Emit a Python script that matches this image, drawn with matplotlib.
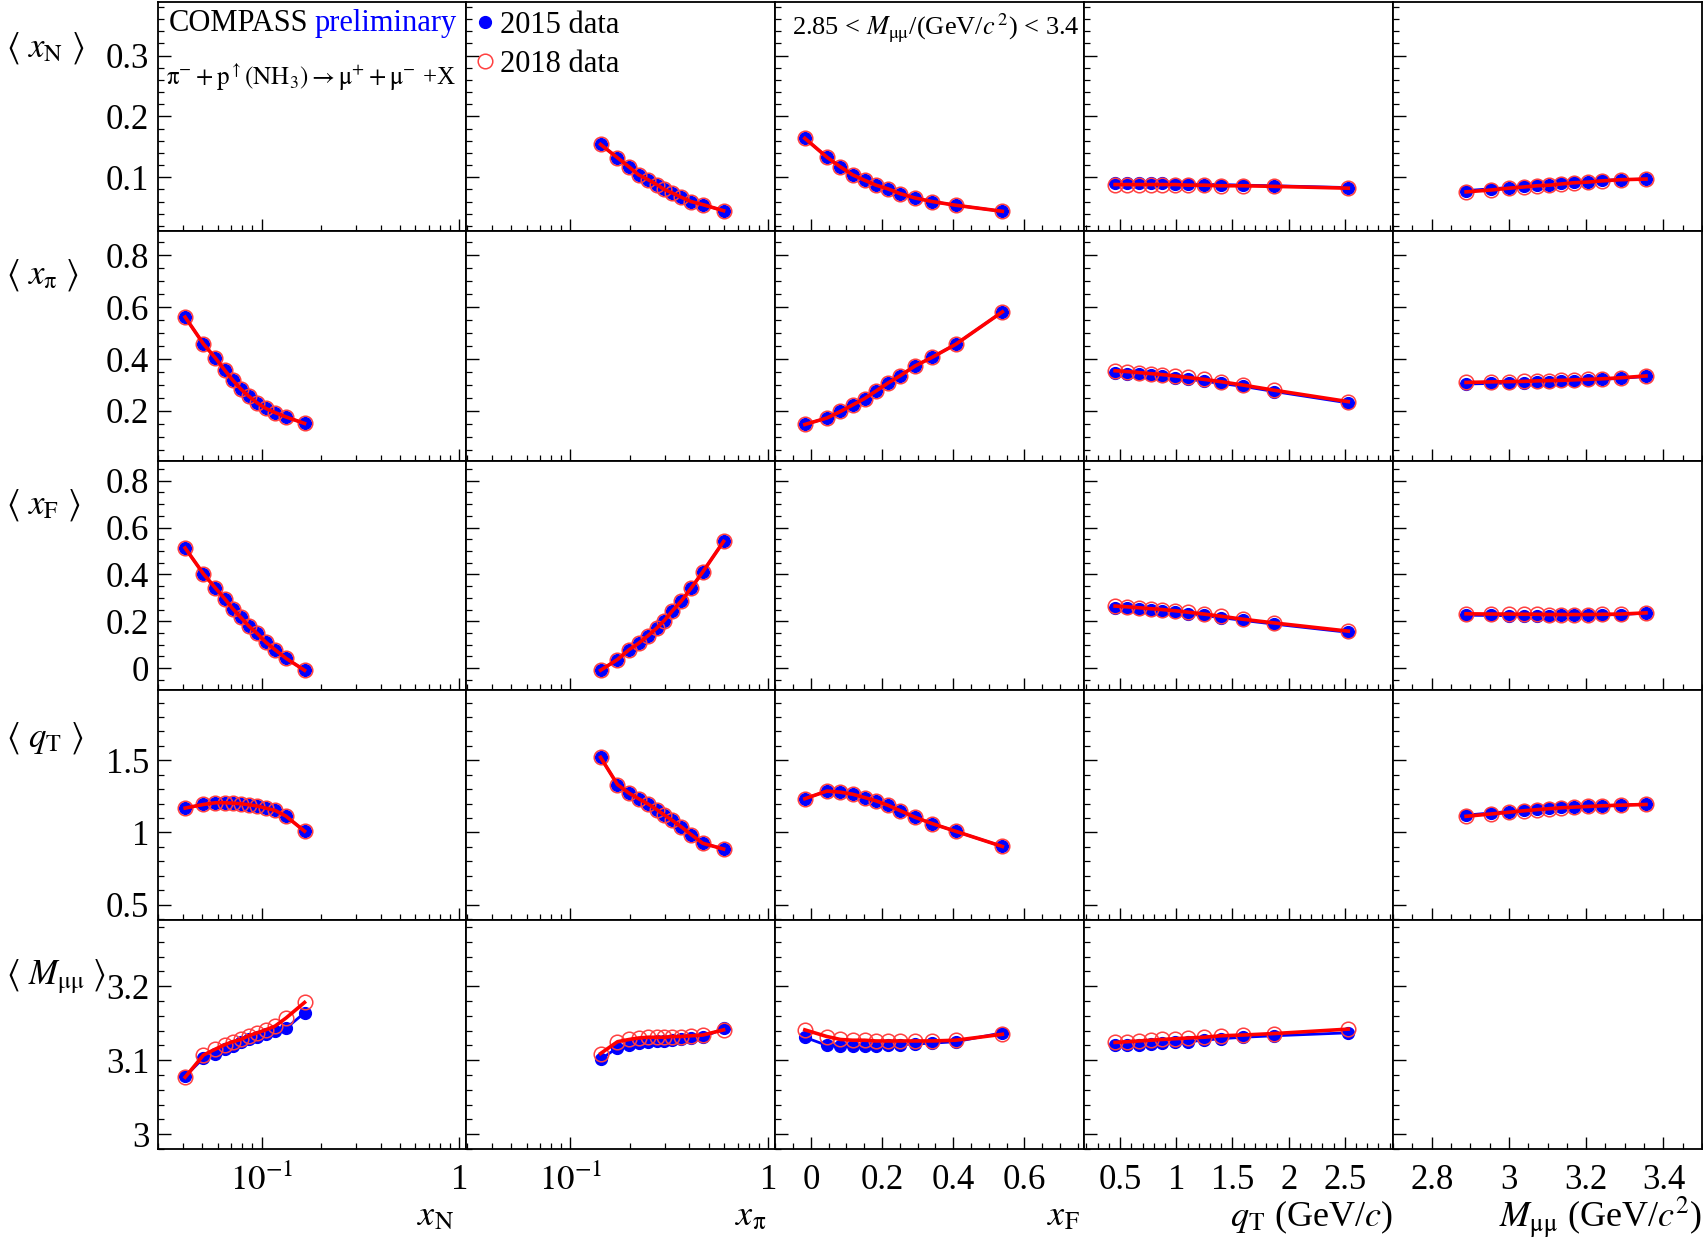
import numpy as np
import matplotlib
matplotlib.use("Agg")
import matplotlib.pyplot as plt
from matplotlib.ticker import (FixedLocator, MultipleLocator, LogLocator,
                               FuncFormatter, NullFormatter)
from matplotlib.lines import Line2D

plt.rcParams['font.family'] = ['Liberation Serif', 'DejaVu Serif']
plt.rcParams['mathtext.fontset'] = 'stix'

# ---------------------------------------------------------------------------
# Mean kinematic values in the 12 bins of each variable
# ---------------------------------------------------------------------------
xN_bin = [0.0411, 0.0509, 0.0585, 0.0652, 0.0715, 0.0785, 0.0862, 0.0951, 0.105, 0.117, 0.133, 0.165]
xpi_bin = [0.142, 0.173, 0.198, 0.221, 0.247, 0.273, 0.298, 0.328, 0.364, 0.408, 0.467, 0.595]
xF_bin = [-0.017, 0.045, 0.083, 0.117, 0.151, 0.183, 0.216, 0.251, 0.292, 0.341, 0.407, 0.538]
qT_bin = [0.455, 0.560, 0.665, 0.771, 0.876, 0.989, 1.104, 1.244, 1.395, 1.591, 1.872, 2.531]
M_bin = [2.889, 2.953, 3.000, 3.038, 3.072, 3.105, 3.136, 3.169, 3.204, 3.241, 3.290, 3.355]

# <x_N>
xN_vs_xpi_15 = [0.154, 0.132, 0.117, 0.104, 0.096, 0.088, 0.080, 0.074, 0.067, 0.060, 0.055, 0.045]
xN_vs_xpi_18 = [0.154, 0.132, 0.117, 0.104, 0.096, 0.088, 0.080, 0.074, 0.067, 0.060, 0.055, 0.045]
xN_vs_xF_15 = [0.164, 0.133, 0.117, 0.104, 0.095, 0.087, 0.081, 0.073, 0.066, 0.060, 0.054, 0.044]
xN_vs_xF_18 = [0.164, 0.133, 0.117, 0.104, 0.095, 0.087, 0.081, 0.073, 0.066, 0.060, 0.054, 0.044]
xN_vs_qT_15 = [0.090, 0.090, 0.090, 0.090, 0.090, 0.089, 0.089, 0.088, 0.088, 0.087, 0.086, 0.083]
xN_vs_qT_18 = [0.088, 0.088, 0.088, 0.088, 0.088, 0.088, 0.087, 0.087, 0.086, 0.086, 0.085, 0.082]
xN_vs_M_15 = [0.078, 0.081, 0.083, 0.085, 0.087, 0.088, 0.090, 0.092, 0.093, 0.095, 0.096, 0.097]
xN_vs_M_18 = [0.076, 0.079, 0.082, 0.084, 0.086, 0.087, 0.089, 0.091, 0.092, 0.094, 0.096, 0.097]

# <x_pi>
xpi_vs_xN_15 = [0.562, 0.458, 0.404, 0.357, 0.319, 0.285, 0.257, 0.231, 0.210, 0.194, 0.177, 0.152]
xpi_vs_xN_18 = [0.562, 0.458, 0.404, 0.357, 0.319, 0.285, 0.257, 0.231, 0.210, 0.194, 0.177, 0.152]
xpi_vs_xF_15 = [0.148, 0.173, 0.198, 0.223, 0.248, 0.277, 0.307, 0.336, 0.373, 0.407, 0.457, 0.582]
xpi_vs_xF_18 = [0.148, 0.173, 0.198, 0.223, 0.248, 0.277, 0.307, 0.336, 0.373, 0.407, 0.457, 0.582]
xpi_vs_qT_15 = [0.347, 0.344, 0.341, 0.337, 0.333, 0.328, 0.322, 0.315, 0.306, 0.295, 0.275, 0.231]
xpi_vs_qT_18 = [0.355, 0.352, 0.348, 0.344, 0.340, 0.335, 0.329, 0.322, 0.313, 0.300, 0.280, 0.236]
xpi_vs_M_15 = [0.304, 0.306, 0.308, 0.309, 0.311, 0.313, 0.315, 0.317, 0.319, 0.322, 0.326, 0.333]
xpi_vs_M_18 = [0.310, 0.312, 0.313, 0.314, 0.316, 0.317, 0.318, 0.320, 0.322, 0.324, 0.328, 0.335]

# <x_F>
xF_vs_xN_15 = [0.513, 0.402, 0.342, 0.296, 0.254, 0.217, 0.180, 0.148, 0.111, 0.079, 0.042, -0.009]
xF_vs_xN_18 = [0.513, 0.402, 0.342, 0.296, 0.254, 0.217, 0.180, 0.148, 0.111, 0.079, 0.042, -0.009]
xF_vs_xpi_15 = [-0.009, 0.037, 0.079, 0.106, 0.139, 0.171, 0.203, 0.245, 0.287, 0.342, 0.411, 0.541]
xF_vs_xpi_18 = [-0.009, 0.037, 0.079, 0.106, 0.139, 0.171, 0.203, 0.245, 0.287, 0.342, 0.411, 0.541]
xF_vs_qT_15 = [0.258, 0.255, 0.251, 0.247, 0.243, 0.238, 0.232, 0.225, 0.216, 0.204, 0.188, 0.153]
xF_vs_qT_18 = [0.265, 0.262, 0.258, 0.254, 0.250, 0.245, 0.239, 0.231, 0.222, 0.209, 0.193, 0.158]
xF_vs_M_15 = [0.226, 0.225, 0.224, 0.224, 0.224, 0.224, 0.225, 0.225, 0.226, 0.227, 0.229, 0.235]
xF_vs_M_18 = [0.232, 0.231, 0.231, 0.230, 0.230, 0.229, 0.229, 0.229, 0.229, 0.230, 0.231, 0.236]

# <q_T>
qT_vs_xN_15 = [1.169, 1.194, 1.206, 1.206, 1.203, 1.199, 1.192, 1.183, 1.169, 1.153, 1.113, 1.009]
qT_vs_xN_18 = [1.169, 1.194, 1.206, 1.206, 1.203, 1.199, 1.192, 1.183, 1.169, 1.153, 1.113, 1.009]
qT_vs_xpi_15 = [1.521, 1.332, 1.272, 1.234, 1.197, 1.159, 1.121, 1.083, 1.038, 0.985, 0.925, 0.885]
qT_vs_xpi_18 = [1.521, 1.332, 1.272, 1.234, 1.197, 1.159, 1.121, 1.083, 1.038, 0.985, 0.925, 0.885]
qT_vs_xF_15 = [1.234, 1.287, 1.279, 1.265, 1.242, 1.219, 1.189, 1.151, 1.106, 1.061, 1.008, 0.903]
qT_vs_xF_18 = [1.234, 1.287, 1.279, 1.265, 1.242, 1.219, 1.189, 1.151, 1.106, 1.061, 1.008, 0.903]
qT_vs_M_15 = [1.120, 1.135, 1.145, 1.155, 1.162, 1.168, 1.174, 1.178, 1.182, 1.186, 1.190, 1.195]
qT_vs_M_18 = [1.112, 1.128, 1.140, 1.150, 1.158, 1.165, 1.171, 1.176, 1.180, 1.185, 1.189, 1.194]

# <M_mumu>
M_vs_xN_15 = [3.078, 3.103, 3.109, 3.115, 3.119, 3.124, 3.128, 3.132, 3.135, 3.139, 3.143, 3.164]
M_vs_xN_18 = [3.077, 3.107, 3.115, 3.121, 3.125, 3.128, 3.133, 3.137, 3.141, 3.146, 3.157, 3.178]
M_vs_xpi_15 = [3.101, 3.117, 3.121, 3.123, 3.125, 3.126, 3.126, 3.127, 3.128, 3.130, 3.131, 3.143]
M_vs_xpi_18 = [3.109, 3.125, 3.128, 3.130, 3.131, 3.131, 3.131, 3.132, 3.132, 3.133, 3.134, 3.141]
M_vs_xF_15 = [3.131, 3.120, 3.119, 3.119, 3.119, 3.119, 3.120, 3.121, 3.122, 3.123, 3.125, 3.137]
M_vs_xF_18 = [3.141, 3.132, 3.128, 3.127, 3.127, 3.126, 3.126, 3.126, 3.126, 3.126, 3.127, 3.135]
M_vs_qT_15 = [3.120, 3.121, 3.121, 3.122, 3.123, 3.124, 3.125, 3.127, 3.129, 3.131, 3.133, 3.137]
M_vs_qT_18 = [3.124, 3.125, 3.126, 3.127, 3.128, 3.129, 3.130, 3.131, 3.133, 3.134, 3.136, 3.142]

variables = ['xN', 'xpi', 'xF', 'qT', 'M']
bins = {'xN': xN_bin, 'xpi': xpi_bin, 'xF': xF_bin, 'qT': qT_bin, 'M': M_bin}
g = globals()
data15 = {}
data18 = {}
for rv in variables:
    for cv in variables:
        name = f'{rv}_vs_{cv}'
        if name + '_15' in g:
            data15[(rv, cv)] = g[name + '_15']
            data18[(rv, cv)] = g[name + '_18']

row_labels = [r'$\langle\ x_{\mathrm{N}}\ \rangle$', r'$\langle\ x_{\mathrm{π}}\ \rangle$',
              r'$\langle\ x_{\mathrm{F}}\ \rangle$', r'$\langle\ q_{\mathrm{T}}\ \rangle$',
              r'$\langle\ M_{\mathrm{μμ}}\ \rangle$']
col_labels = [r'$x_{\mathrm{N}}$', r'$x_{\mathrm{π}}$', r'$x_{\mathrm{F}}$',
              r'$q_{\mathrm{T}}$ (GeV/$c$)', r'$M_{\mathrm{μμ}}$ (GeV/$c^2$)']
col_label_shift = [-12, -9, -5, 0, 0]

xlims = [(0.0298, 1.086), (0.0298, 1.086), (-0.10, 0.768), (0.18, 2.93), (2.70, 3.50)]
ylims = [(0.011, 0.388), (0.008, 0.892), (-0.094, 0.885), (0.396, 1.986), (2.98, 3.29)]
y_major = [0.1, 0.2, 0.2, 0.5, 0.1]
y_minor = [0.02, 0.05, 0.05, 0.1, 0.02]

# ---------------------------------------------------------------------------
W, H = 1703, 1239
fig = plt.figure(figsize=(W / 100, H / 100), dpi=100)
L, R, T, B = 157.5 / W, 1702 / W, 1 - 2 / H, 1 - 1149 / H
axes = fig.subplots(5, 5, sharex='col', sharey='row',
                    gridspec_kw=dict(left=L, right=R, top=T, bottom=B,
                                     wspace=0, hspace=0))

BLUE = '#0000ff'
RED = '#ff0000'
fmt = FuncFormatter(lambda v, p: f'{v:g}')

for i, rv in enumerate(variables):
    for j, cv in enumerate(variables):
        ax = axes[i, j]
        for s in ax.spines.values():
            s.set_linewidth(1.3)
        if (rv, cv) in data15:
            x = bins[cv]
            ax.plot(x, data15[(rv, cv)], color=BLUE, lw=2.0, zorder=2)
            ax.plot(x, data15[(rv, cv)], 'o', ms=8.5, color=BLUE, mec=BLUE, zorder=3)
            ax.plot(x, data18[(rv, cv)], 'o', ms=10.5, mfc='none', mec='#ff4040',
                    mew=1.1, zorder=4)
            ax.plot(x, data18[(rv, cv)], color=RED, lw=2.6, zorder=5)
        ax.tick_params(which='both', direction='in', top=False, right=False,
                       labelsize=25)
        ax.tick_params(which='major', length=9, width=1.0)
        ax.tick_params(which='minor', length=4.5, width=0.9)
        ax.tick_params(axis='y', pad=6)
        ax.tick_params(axis='x', pad=11)

# x axes per column
for j in range(5):
    ax = axes[0, j]
    if j < 2:
        ax.set_xscale('log')
        ax.xaxis.set_major_locator(FixedLocator([0.1, 1.0]))
        ax.xaxis.set_major_formatter(
            FuncFormatter(lambda v, p: r'$10^{-1}$' if v < 0.5 else '1'))
        ax.xaxis.set_minor_locator(LogLocator(base=10, subs=np.arange(2, 10) * 1.0,
                                              numticks=20))
        ax.xaxis.set_minor_formatter(NullFormatter())
    elif j == 2:
        ax.xaxis.set_major_locator(FixedLocator([0, 0.2, 0.4, 0.6]))
        ax.xaxis.set_minor_locator(MultipleLocator(0.05))
        ax.xaxis.set_major_formatter(fmt)
    elif j == 3:
        ax.xaxis.set_major_locator(FixedLocator([0.5, 1, 1.5, 2, 2.5]))
        ax.xaxis.set_minor_locator(MultipleLocator(0.1))
        ax.xaxis.set_major_formatter(fmt)
    else:
        ax.xaxis.set_major_locator(FixedLocator([2.8, 3.0, 3.2, 3.4]))
        ax.xaxis.set_minor_locator(MultipleLocator(0.05))
        ax.xaxis.set_major_formatter(fmt)
    ax.set_xlim(*xlims[j])

# y axes per row
for i in range(5):
    ax = axes[i, 0]
    ax.yaxis.set_major_locator(MultipleLocator(y_major[i]))
    ax.yaxis.set_minor_locator(MultipleLocator(y_minor[i]))
    ax.yaxis.set_major_formatter(fmt)
    ax.set_ylim(*ylims[i])

# row labels
row_centres = [48, 275, 505, 738, 977]
for lab, yc in zip(row_labels, row_centres):
    fig.text(6 / W, 1 - yc / H, lab, fontsize=25, ha='left', va='center')

# column labels
for j, lab in enumerate(col_labels):
    axes[4, j].annotate(lab, xy=(1, 0), xycoords='axes fraction',
                        xytext=(col_label_shift[j], -68), textcoords='offset pixels',
                        ha='right', va='center', fontsize=26)

# annotations in the top row
a0 = axes[0, 0]
t1 = a0.text(0.035, 0.905, 'COMPASS', transform=a0.transAxes, fontsize=22,
             ha='left', va='center')
a0.annotate('preliminary', xy=(1, 0), xycoords=t1, xytext=(5, 0),
            textcoords='offset points', ha='left', va='bottom', fontsize=22,
            color=BLUE)
a0.text(0.028, 0.672,
        r'$\mathrm{π^{-}+p^{\uparrow}(NH_{3})\rightarrow μ^{+}+μ^{-}}$ +X',
        transform=a0.transAxes, fontsize=18, ha='left', va='center')

a1 = axes[0, 1]
handles = [Line2D([], [], ls='none', marker='o', ms=8.5, color=BLUE),
           Line2D([], [], ls='none', marker='o', ms=10.5, mfc='none',
                  mec='#ff4040', mew=1.1)]
a1.legend(handles, ['2015 data', '2018 data'], loc='upper left',
          bbox_to_anchor=(0.02, 0.98), frameon=False, fontsize=22,
          borderaxespad=0.0, borderpad=0.15, handlelength=0.5,
          handletextpad=0.25, labelspacing=0.32)

a2 = axes[0, 2]
a2.text(0.985, 0.885, r'2.85 < $M_{\mathrm{μμ}}$/(GeV/$c^{\,2}$) < 3.4',
        transform=a2.transAxes, fontsize=19, ha='right', va='center')

fig.savefig('out.png', dpi=100)
